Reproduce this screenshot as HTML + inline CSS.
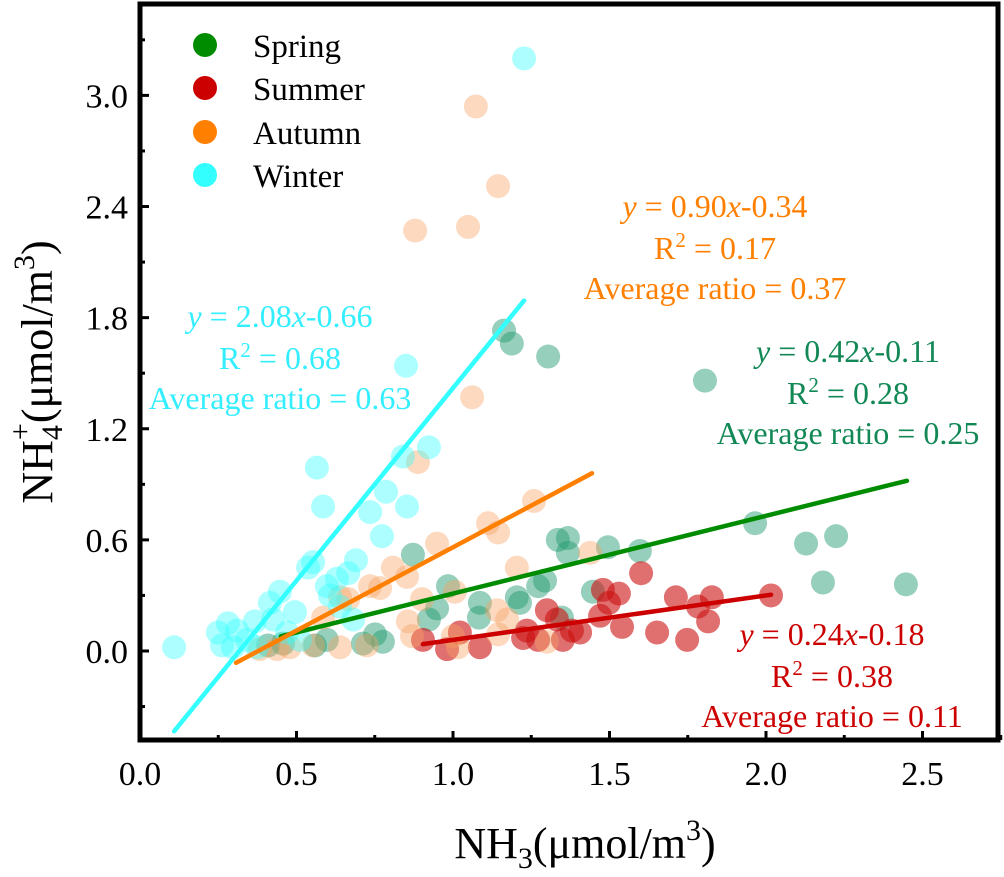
<!DOCTYPE html>
<html><head><meta charset="utf-8"><style>
body{margin:0;background:#fff;}
svg text{font-family:"Liberation Serif",serif;}
</style></head><body>
<svg id="chart" width="1004" height="872" viewBox="0 0 1004 872" xmlns="http://www.w3.org/2000/svg">
<g id="marks"></g>
<g id="axes"></g>
<g>
 <circle cx="205" cy="45" r="12" fill="#008c00"/>
 <text x="253" y="57" font-size="33">Spring</text>
 <circle cx="205" cy="88" r="12" fill="#cc0000"/>
 <text x="253" y="100" font-size="33">Summer</text>
 <circle cx="205" cy="132" r="12" fill="#ff7f00"/>
 <text x="253" y="144" font-size="33">Autumn</text>
 <circle cx="205" cy="175" r="12" fill="#33ffff"/>
 <text x="253" y="187" font-size="33">Winter</text>
</g>
<g font-size="32" text-anchor="middle">
 <g fill="#ff7f00">
  <text x="715" y="217"><tspan font-style="italic">y</tspan> = 0.90<tspan font-style="italic">x</tspan>-0.34</text>
  <text x="715" y="259">R<tspan dy="-12" font-size="21">2</tspan><tspan dy="12"> = 0.17</tspan></text>
  <text x="715" y="299">Average ratio = 0.37</text>
 </g>
 <g fill="#33eeff">
  <text x="280" y="327"><tspan font-style="italic">y</tspan> = 2.08<tspan font-style="italic">x</tspan>-0.66</text>
  <text x="280" y="369">R<tspan dy="-12" font-size="21">2</tspan><tspan dy="12"> = 0.68</tspan></text>
  <text x="280" y="409">Average ratio = 0.63</text>
 </g>
 <g fill="#118855">
  <text x="848" y="362"><tspan font-style="italic">y</tspan> = 0.42<tspan font-style="italic">x</tspan>-0.11</text>
  <text x="848" y="404">R<tspan dy="-12" font-size="21">2</tspan><tspan dy="12"> = 0.28</tspan></text>
  <text x="848" y="444">Average ratio = 0.25</text>
 </g>
 <g fill="#cc0000">
  <text x="832" y="645"><tspan font-style="italic">y</tspan> = 0.24<tspan font-style="italic">x</tspan>-0.18</text>
  <text x="832" y="687">R<tspan dy="-12" font-size="21">2</tspan><tspan dy="12"> = 0.38</tspan></text>
  <text x="832" y="727">Average ratio = 0.11</text>
 </g>
</g>
<text x="585" y="858" font-size="44" text-anchor="middle">NH<tspan dy="10" font-size="30">3</tspan><tspan dy="-10">(μmol/m</tspan><tspan dy="-18" font-size="30">3</tspan><tspan dy="18">)</tspan></text>
<text transform="translate(52,372) rotate(-90)" font-size="44" text-anchor="middle">NH<tspan dy="10" font-size="30">4</tspan><tspan dx="-15" dy="-32" font-size="30">+</tspan><tspan dy="22">(μmol/m</tspan><tspan dy="-18" font-size="30">3</tspan><tspan dy="18">)</tspan></text>
</svg>
<script>
const xTicks=[0.0,0.5,1.0,1.5,2.0,2.5];
const xTickLabels=["0.0","0.5","1.0","1.5","2.0","2.5"];
const yTicks=[0.0,0.6,1.2,1.8,2.4,3.0];
const yTickLabels=["0.0","0.6","1.2","1.8","2.4","3.0"];
const springX=[1.163,1.188,1.304,1.805,0.872,0.984,0.949,0.923,1.086,1.083,1.204,1.214,1.272,1.294,1.335,1.367,1.367,1.447,1.348,0.751,0.776,0.712,0.597,0.559,0.409,0.457,1.495,1.597,1.965,2.128,2.224,2.182,2.447];
const springY=[1.73,1.66,1.59,1.46,0.52,0.35,0.23,0.17,0.26,0.18,0.29,0.26,0.35,0.38,0.60,0.61,0.53,0.32,0.18,0.09,0.05,0.04,0.06,0.03,0.03,0.04,0.56,0.54,0.69,0.58,0.62,0.37,0.36];
const summerX=[0.904,0.981,1.022,1.086,1.236,1.224,1.272,1.300,1.332,1.380,1.351,1.601,1.479,1.530,1.498,1.470,1.540,1.652,1.748,1.712,1.783,1.827,1.815,2.016,1.406];
const summerY=[0.06,0.01,0.10,0.02,0.11,0.07,0.06,0.22,0.17,0.11,0.06,0.42,0.33,0.31,0.26,0.19,0.13,0.10,0.06,0.29,0.24,0.29,0.16,0.30,0.10];
const autumnX=[1.073,1.144,1.048,0.879,1.061,0.888,1.259,1.112,1.144,0.949,0.808,0.853,0.735,0.767,1.204,1.438,1.006,0.901,0.856,0.869,0.639,0.665,0.585,1.141,1.173,1.144,1.000,1.016,1.300,0.725,0.639,0.553,0.479,0.438,0.383];
const autumnY=[2.94,2.51,2.29,2.27,1.37,1.02,0.81,0.69,0.64,0.58,0.45,0.40,0.35,0.34,0.45,0.53,0.32,0.28,0.16,0.08,0.29,0.28,0.18,0.22,0.17,0.09,0.08,0.02,0.05,0.03,0.02,0.03,0.02,0.01,0.01];
const winterX=[1.227,0.850,0.923,0.109,0.565,0.585,0.735,0.786,0.853,0.773,0.840,0.690,0.553,0.537,0.665,0.629,0.607,0.447,0.415,0.495,0.367,0.281,0.249,0.310,0.262,0.297,0.342,0.470,0.425,0.681,0.639,0.511,0.374,0.597];
const winterY=[3.20,1.54,1.10,0.02,0.99,0.78,0.75,0.86,0.78,0.62,1.05,0.49,0.48,0.45,0.42,0.39,0.30,0.32,0.26,0.21,0.16,0.15,0.10,0.11,0.03,0.02,0.06,0.10,0.17,0.17,0.24,0.06,0.02,0.35];
const fitSlope=[0.42,0.24,0.90,2.08];
const fitIntercept=[-0.11,-0.18,-0.34,-0.66];
const fitXMin=[0.45,0.904,0.307,0.109];
const fitXMax=[2.45,2.016,1.444,1.227];

const NS="http://www.w3.org/2000/svg";
const L=140,R=998,T=4,B=740;
const sx=v=>L+313*v;
const sy=v=>651-185.2*v;
function mk(tag,attrs,parent){const e=document.createElementNS(NS,tag);for(const k in attrs)e.setAttribute(k,attrs[k]);parent.appendChild(e);return e;}
const marks=document.getElementById('marks'),axes=document.getElementById('axes');
const series=[
 {n:'spring',x:springX,y:springY,c:'#239a70',o:0.48,lc:'#008c00'},
 {n:'summer',x:summerX,y:summerY,c:'#cc1111',o:0.6,lc:'#cc0000'},
 {n:'autumn',x:autumnX,y:autumnY,c:'#f7a060',o:0.4,lc:'#ff7f00'},
 {n:'winter',x:winterX,y:winterY,c:'#33ffff',o:0.4,lc:'#33ffff'}];
series.forEach(s=>{
 s.x.forEach((xv,i)=>{
  const c=mk('circle',{cx:sx(xv),cy:sy(s.y[i]),r:12,fill:s.c,'fill-opacity':s.o},marks);
  
  
 });
});
series.forEach((s,k)=>{
 const x0=fitXMin[k],x1=fitXMax[k];
 const ln=mk('line',{x1:sx(x0),y1:sy(fitSlope[k]*x0+fitIntercept[k]),x2:sx(x1),y2:sy(fitSlope[k]*x1+fitIntercept[k]),stroke:s.lc,'stroke-width':4.5,'stroke-linecap':'round'},marks);
 
 
});
const fr=mk('rect',{x:L,y:T,width:R-L,height:B-T,fill:'none',stroke:'#000','stroke-width':5},axes);


xTicks.forEach((v,i)=>{
 mk('line',{x1:sx(v),y1:B,x2:sx(v),y2:B-9,stroke:'#000','stroke-width':3},axes);
 mk('line',{x1:sx(v+0.25),y1:B,x2:sx(v+0.25),y2:B-5,stroke:'#000','stroke-width':3},axes);
 const t=mk('text',{x:sx(v),y:785,'font-size':34,'text-anchor':'middle'},axes);
 t.textContent=xTickLabels[i];
 
 
});
yTicks.forEach((v,i)=>{
 mk('line',{x1:L,y1:sy(v),x2:L+9,y2:sy(v),stroke:'#000','stroke-width':3},axes);
 mk('line',{x1:L,y1:sy(v+0.3),x2:L+5,y2:sy(v+0.3),stroke:'#000','stroke-width':3},axes);
 const t=mk('text',{x:128,y:sy(v)+12,'font-size':34,'text-anchor':'end'},axes);
 t.textContent=yTickLabels[i];
 
 
});
mk('line',{x1:L,y1:sy(-0.3),x2:L+5,y2:sy(-0.3),stroke:'#000','stroke-width':3},axes);
</script>
</body></html>
